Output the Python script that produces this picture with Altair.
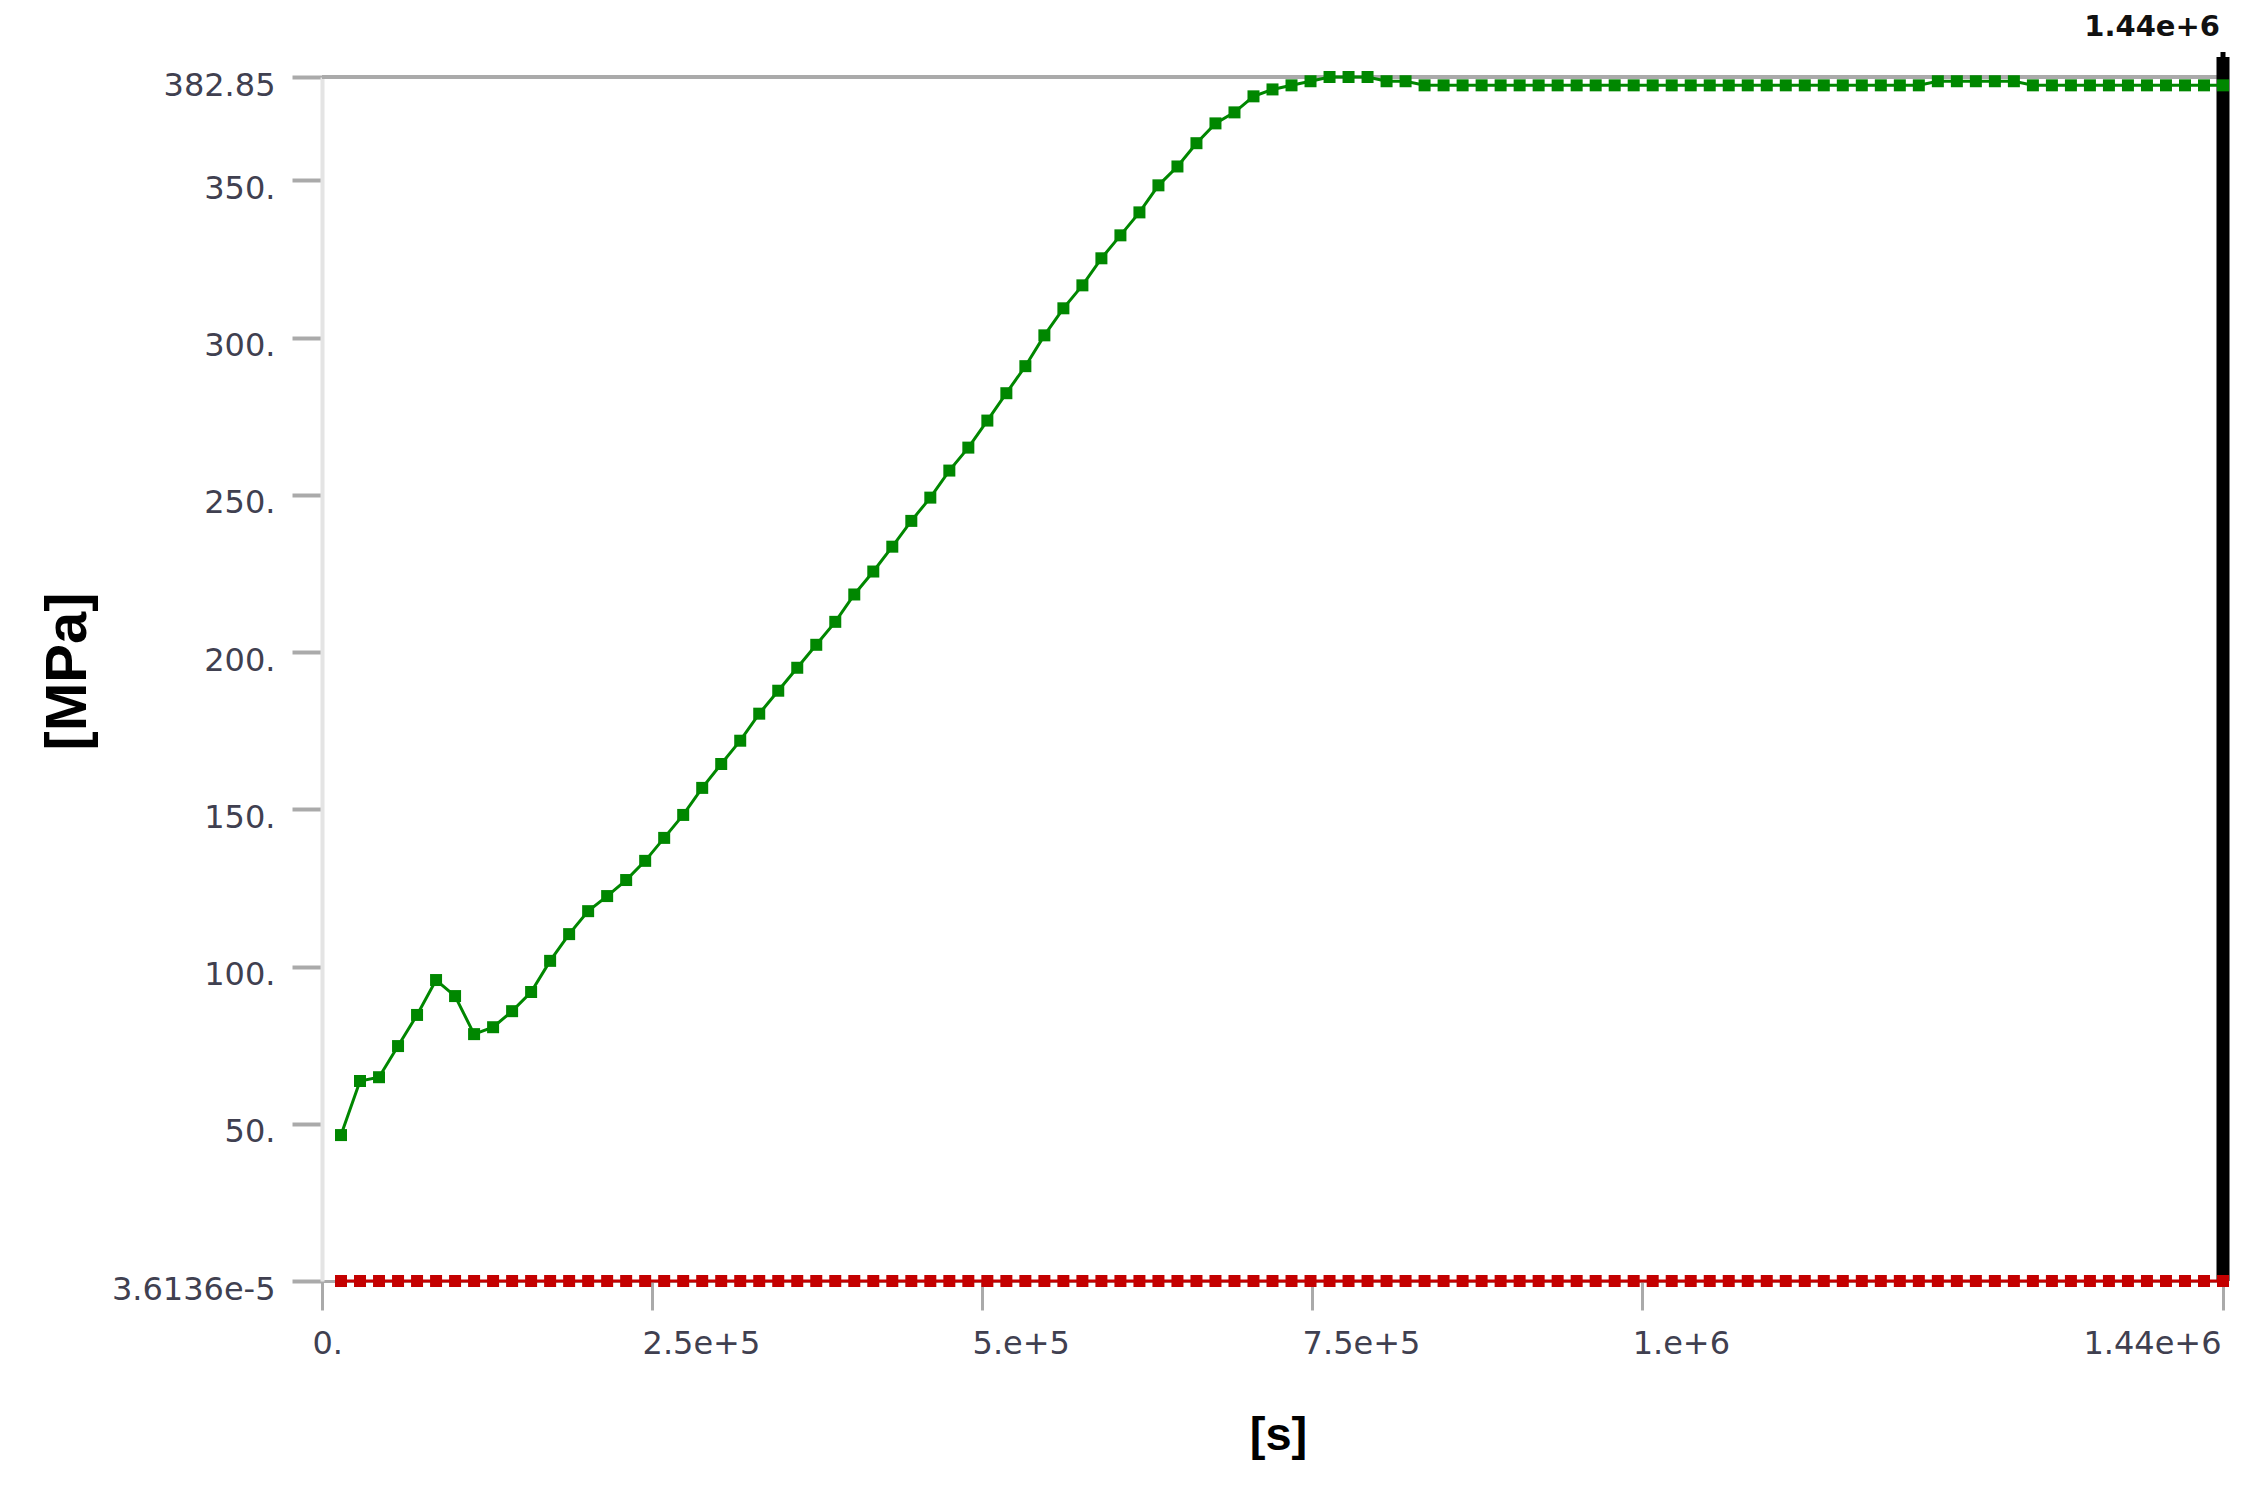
import altair as alt
import pandas as pd

# ---- data ----
times = [14400 * i for i in range(1, 101)]  # 100 equal time steps up to 1.44e6 s

green_values = [
    46.4, 63.6, 64.8, 74.7, 84.6, 95.7, 90.6, 78.5, 80.7, 85.8,
    91.9, 101.8, 110.3, 117.6, 122.4, 127.5, 133.6, 140.9, 148.2, 156.8,
    164.4, 171.8, 180.4, 187.7, 195.0, 202.3, 209.6, 218.3, 225.6, 233.5,
    241.7, 249.1, 257.7, 265.0, 273.6, 282.3, 290.9, 300.7, 309.3, 316.6,
    325.2, 332.5, 339.8, 348.4, 354.4, 361.8, 368.1, 371.6, 376.7, 378.9,
    380.2, 381.5, 382.85, 382.85, 382.85, 381.5, 381.5, 380.2, 380.2, 380.2,
    380.2, 380.2, 380.2, 380.2, 380.2, 380.2, 380.2, 380.2, 380.2, 380.2,
    380.2, 380.2, 380.2, 380.2, 380.2, 380.2, 380.2, 380.2, 380.2, 380.2,
    380.2, 380.2, 380.2, 380.2, 381.5, 381.5, 381.5, 381.5, 381.5, 380.2,
    380.2, 380.2, 380.2, 380.2, 380.2, 380.2, 380.2, 380.2, 380.2, 380.2,
]
red_values = [3.6136e-5] * 100  # minimum series, flat at the bottom

series_names = ["Maximum", "Minimum"]
series_colors = ["#008700", "#c40000"]

x_tick_values = [0, 250000, 500000, 750000, 1000000, 1440000]
x_tick_labels = ["0.", "2.5e+5", "5.e+5", "7.5e+5", "1.e+6", "1.44e+6"]
y_tick_values = [3.6136e-5, 50, 100, 150, 200, 250, 300, 350, 382.85]
y_tick_labels = ["3.6136e-5", "50.", "100.", "150.", "200.", "250.", "300.", "350.", "382.85"]

x_min, x_max = 0, 1440000
y_min, y_max = 3.6136e-5, 382.85
cursor_label = "1.44e+6"
x_title = "[s]"
y_title = "[MPa]"

# ---- layout ----
W, H = 1901, 1204

df = pd.DataFrame({
    "t": times + times,
    "v": green_values + red_values,
    "s": [series_names[0]] * len(times) + [series_names[1]] * len(times),
})


def label_expr(values, labels):
    vals = ",".join(repr(float(v)) for v in values)
    labs = ",".join("'" + l + "'" for l in labels)
    return f"[{labs}][indexof([{vals}], datum.value)]"


xscale = alt.Scale(domain=[x_min, x_max], nice=False, zero=False)
yscale = alt.Scale(domain=[y_min, y_max], nice=False, zero=False)

x_axis = alt.Axis(
    values=x_tick_values,
    labelExpr=label_expr(x_tick_values, x_tick_labels),
    grid=False,
    domainColor="#aaaaaa", domainWidth=3,
    tickColor="#aaaaaa", tickWidth=3, tickSize=29,
    labelFont="DejaVu Sans", labelFontSize=32, labelColor="#404050",
    labelAlign={"condition": {"test": "datum.value >= 1440000", "value": "right"}, "value": "left"},
    labelOffset={"condition": {"test": "datum.value >= 1440000", "value": -2}, "value": -10},
    labelBaseline="top", labelPadding=18,
    labelOverlap=False, labelFlush=False,
    titleFont="Liberation Sans", titleFontWeight="bold", titleFontSize=47, titleColor="black",
    titleX=956, titleY=154, titleAlign="center", titleBaseline="middle",
)
y_axis = alt.Axis(
    values=y_tick_values,
    labelExpr=label_expr(y_tick_values, y_tick_labels),
    grid=False,
    domainColor="#e4e4e4", domainWidth=4,
    tickColor="#aaaaaa", tickWidth=4, tickSize=30,
    labelFont="DejaVu Sans", labelFontSize=32, labelColor="#404050",
    labelBaseline="middle", labelPadding=17, labelOffset=8,
    labelOverlap=False, labelFlush=False,
    titleFont="Liberation Sans", titleFontWeight="bold", titleFontSize=58, titleColor="black",
    titleX=-254, titleY=H / 2 - 8, titleAngle=270, titleAlign="center", titleBaseline="middle",
)

x_enc = alt.X("t:Q", scale=xscale, axis=x_axis, title=x_title)
y_enc = alt.Y("v:Q", scale=yscale, axis=y_axis, title=y_title)
color_enc = alt.Color("s:N", scale=alt.Scale(domain=series_names, range=series_colors), legend=None)

top_rule = alt.Chart(pd.DataFrame({"v": [y_max]})).mark_rule(
    color="#aaaaaa", strokeWidth=4
).encode(y=y_enc)

cursor_df = pd.DataFrame({"t": [x_max], "label": [cursor_label]})
cursor = alt.Chart(cursor_df).mark_rule(color="black", strokeWidth=13).encode(
    x=x_enc, y=alt.value(-20), y2=alt.value(H)
)
cursor_tip = alt.Chart(cursor_df).mark_rule(color="black", strokeWidth=5).encode(
    x=x_enc, y=alt.value(-25), y2=alt.value(-18)
)
cursor_text = alt.Chart(cursor_df).mark_text(
    font="DejaVu Sans", fontWeight="bold", fontSize=29, color="#111111",
    align="right", baseline="middle", dx=-3
).encode(x=x_enc, y=alt.value(-50), text="label:N")

lines = alt.Chart(df).mark_line(strokeWidth=3).encode(
    x=x_enc, y=y_enc, color=color_enc, detail="s:N"
)
points = alt.Chart(df).mark_point(shape="square", filled=True, size=144, opacity=1).encode(
    x=x_enc, y=y_enc, color=color_enc
)

chart = alt.layer(top_rule, cursor, cursor_tip, cursor_text, lines, points).properties(
    width=W, height=H,
    padding={"left": 314, "top": 69, "right": 37, "bottom": 218},
    autosize=alt.AutoSizeParams(type="none"),
).configure_view(strokeWidth=0)

chart.save("out.html", embed_options={"renderer": "svg", "actions": False})
